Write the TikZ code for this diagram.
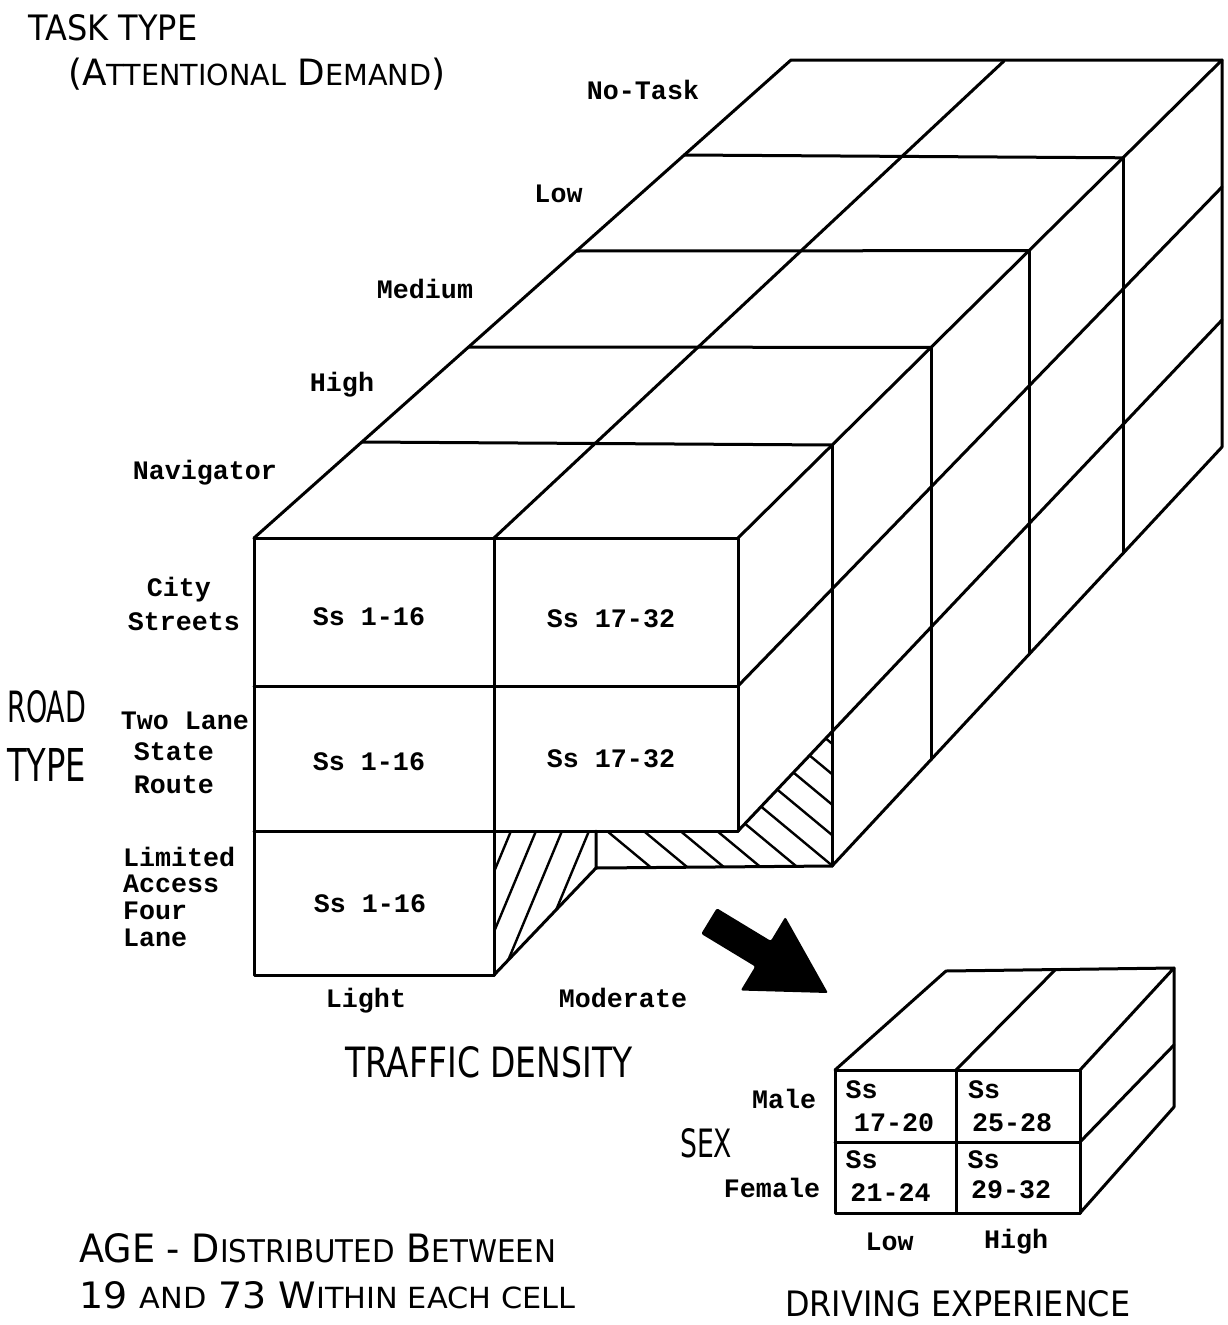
\documentclass[tikz,border=0pt]{standalone}
\usepackage{fontspec}
\setmainfont{Liberation Sans}
\newfontfamily\hdfont{DejaVu Sans}
\newfontfamily\twfont{Liberation Mono}
\newcommand\smallc[1]{{\fontsize{8}{9}\selectfont #1}}
\newcommand\hd[3]{\resizebox{#1pt}{#2pt}{\hdfont\fontsize{10}{12}\selectfont #3}}
\tikzset{
  ln/.style={line width=3pt, line join=round, line cap=round},
  hatch/.style={line width=2.4pt, line cap=round},
  tw/.style={font={\twfont\bfseries\fontsize{26.67}{28}\selectfont}, inner sep=0pt, anchor=base},
  twl/.style={tw, anchor=base west},
  hdn/.style={inner sep=0pt, anchor=base west},
}
\begin{document}
\begin{tikzpicture}[x=1pt,y=-1pt]
\useasboundingbox (0,0) rectangle (1227,1325);

% ---------- hatching of the cut-out ----------
\begin{scope}
  \clip (494,831) -- (596,831) -- (596,868) -- (494,975) -- cycle;
  \foreach \x in {511,536,562,589} \draw[hatch] (\x+20,783) -- (\x-60,975);
\end{scope}
\begin{scope}
  \clip (596,831) -- (738,831) -- (832,732) -- (832,866) -- (596,868) -- cycle;
  \foreach \i in {0,...,10} {\pgfmathsetmacro{\xx}{607+36.7*\i}
    \draw[hatch] (\xx-130,723.1) -- (\xx+60,880.8);}
\end{scope}

% ---------- main block: front face ----------
\draw[ln] (254,538) -- (254,975) -- (494,975) -- (494,538);
\draw[ln] (254,538) -- (738,538) -- (738,831);
\draw[ln] (254,686) -- (738,686);
\draw[ln] (254,831) -- (738,831);
% top face
\draw[ln] (254,538) -- (791,60) -- (1222,60) -- (738,538);
\draw[ln] (362,442) -- (832,445);
\draw[ln] (469,347) -- (931,347.4);
\draw[ln] (576,251) -- (1029,250.6);
\draw[ln] (684,155) -- (1123,157.8);
\draw[ln] (494,538) -- (1004,61);
% right face
\draw[ln] (1222,60) -- (1222,447) -- (832,866) -- (596,868) -- (596,831);
\draw[ln] (494,975) -- (596,868);
\draw[ln] (832,445) -- (832,866);
\draw[ln] (931,347.4) -- (931,759.6);
\draw[ln] (1029,250.6) -- (1029,654.3);
\draw[ln] (1123,157.8) -- (1123,553.4);
\draw[ln] (738,686) -- (1222,187);
\draw[ln] (738,831) -- (1222,320);

% ---------- arrow ----------
\fill[rounded corners=2pt] (716.8,908.2) -- (770.8,940.9) -- (785.3,916.9) -- (828,993)
  -- (740.7,990.5) -- (755.2,966.5) -- (701.2,933.8) -- cycle;

% ---------- small block ----------
\draw[ln] (835,1070) rectangle (1080,1213);
\draw[ln] (956,1070) -- (956,1213);
\draw[ln] (835,1142) -- (1080,1142);
\draw[ln] (835,1070) -- (946,971) -- (1174,968) -- (1080,1070);
\draw[ln] (956,1070) -- (1055,970);
\draw[ln] (1174,968) -- (1174,1107) -- (1080,1213);
\draw[ln] (1080,1142) -- (1174,1045);

% ---------- typewriter labels ----------
\node[tw] (notask) at (643,99) {No-Task};
\node[tw] (tlow) at (558.5,202) {Low};
\node[tw] (tmed) at (425,298) {Medium};
\node[tw] (thigh) at (342,391) {High};
\node[tw] (tnav) at (205,479) {Navigator};
\node[tw] (city) at (179,596) {City};
\node[tw] (streets) at (184,630) {Streets};
\node[tw] (twolane) at (185,729) {Two Lane};
\node[tw] (state) at (174,760) {State};
\node[tw] (route) at (174,793) {Route};
\node[twl] (limited) at (123,866) {Limited};
\node[twl] (access) at (123,892) {Access};
\node[twl] (four) at (123,919) {Four};
\node[twl] (lane) at (123,946) {Lane};
\node[tw] (c11) at (369,625) {Ss 1-16};
\node[tw] (c21) at (369,770) {Ss 1-16};
\node[tw] (c31) at (370,912) {Ss 1-16};
\node[tw] (c12) at (611,627) {Ss 17-32};
\node[tw] (c22) at (611,767) {Ss 17-32};
\node[tw] (light) at (366,1007) {Light};
\node[tw] (moderate) at (623,1007) {Moderate};
\node[tw] (male) at (784,1108) {Male};
\node[tw] (female) at (772,1197) {Female};
\node[tw] (s1a) at (861.5,1098) {Ss};
\node[tw] (s1b) at (894,1131) {17-20};
\node[tw] (s2a) at (984,1098) {Ss};
\node[tw] (s2b) at (1012,1131) {25-28};
\node[tw] (s3a) at (861.5,1168) {Ss};
\node[tw] (s3b) at (890.5,1201) {21-24};
\node[tw] (s4a) at (983.5,1168) {Ss};
\node[tw] (s4b) at (1011,1198) {29-32};
\node[tw] (elow) at (889.5,1250) {Low};
\node[tw] (ehigh) at (1016,1248) {High};

% ---------- lettered headings ----------
\node[hdn] (tasktype) at (28,40) {\hd{169}{26}{TASK TYPE}};
\node[hdn] (attn) at (68,85) {\hd{377}{27.5}{(A\smallc{TTENTIONAL} D\smallc{EMAND})}};
\node[hdn] (road) at (7,722) {\hd{79}{32}{ROAD}};
\node[hdn] (rtype) at (7,781) {\hd{79}{33}{TYPE}};
\node[hdn] (traffic) at (345,1077) {\hd{287}{31}{TRAFFIC DENSITY}};
\node[hdn] (sex) at (680,1157) {\hd{52}{29}{SEX}};
\node[hdn] (drivexp) at (785,1316) {\hd{345}{26}{DRIVING EXPERIENCE}};
\node[hdn] (age1) at (79,1262) {\hd{477}{29}{AGE - D\smallc{ISTRIBUTED} B\smallc{ETWEEN}}};
\node[hdn] (age2) at (79,1308) {\hd{496}{27}{19 \smallc{AND} 73 W\smallc{ITHIN EACH CELL}}};
\end{tikzpicture}
\end{document}
